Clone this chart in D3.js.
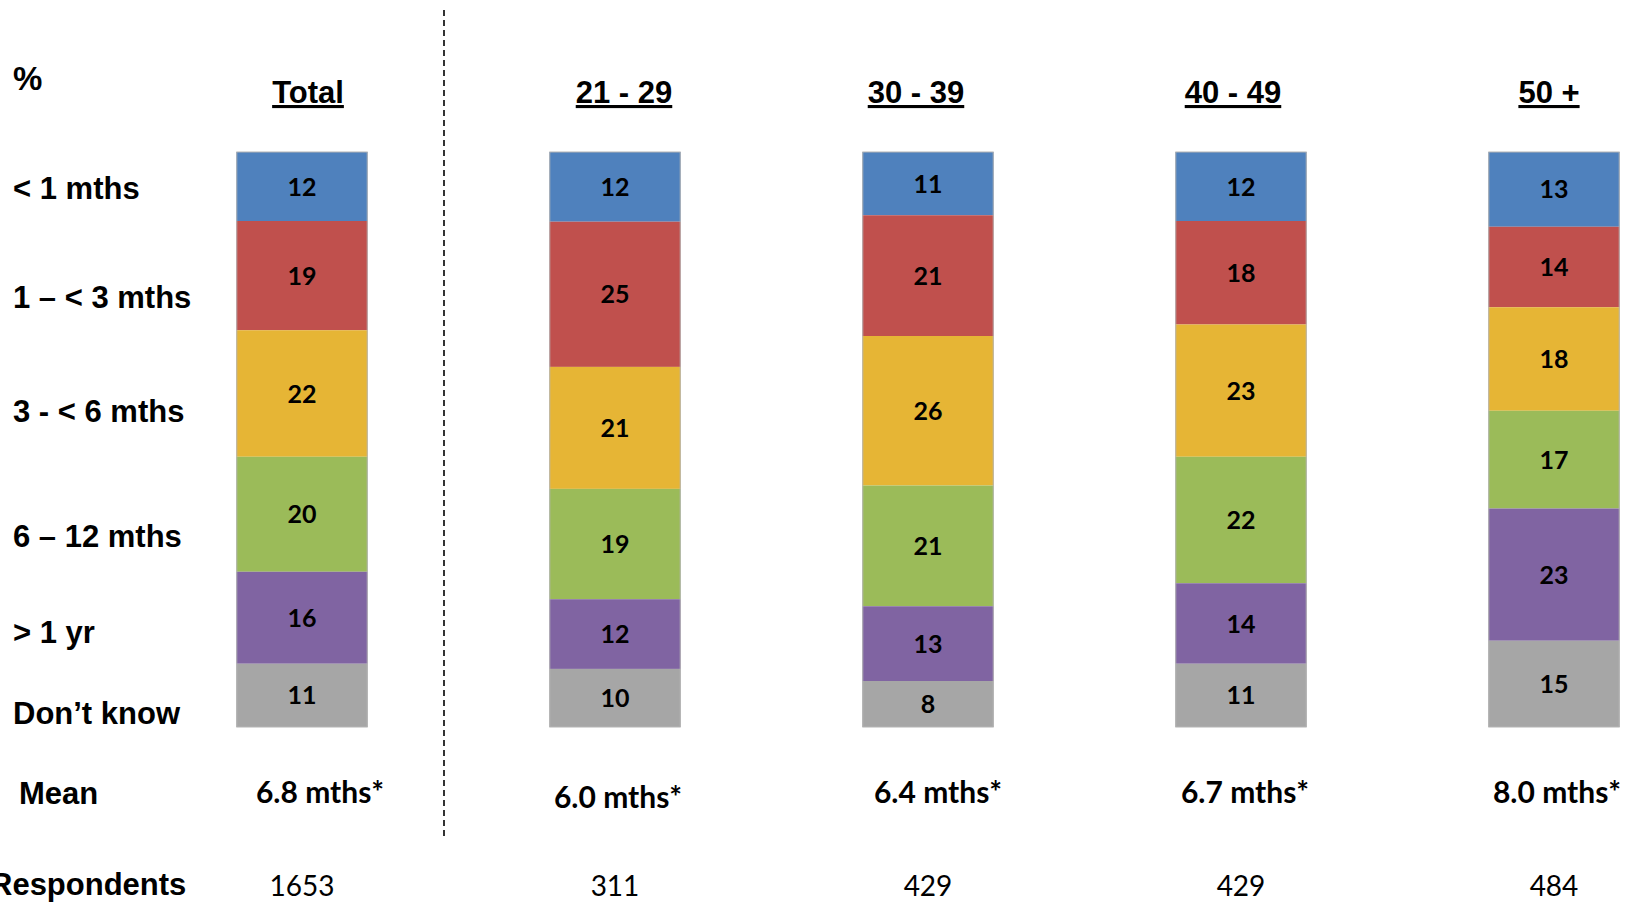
<!DOCTYPE html>
<html>
<head>
<meta charset="utf-8">
<script src="https://cdn.jsdelivr.net/npm/d3@7"></script>
<style>
  body { margin: 0; background: #fff; }
  svg { display: block; }
</style>
</head>
<body>
<svg id="chart"></svg>
<script>
// groups shown as columns
var groups = ["Total", "21 - 29", "30 - 39", "40 - 49", "50 +"];

// stacked categories, top to bottom
var categories = ["< 1 mths", "1 \u2013 < 3 mths", "3 - < 6 mths", "6 \u2013 12 mths", "> 1 yr", "Don\u2019t know"];

// percent values per category, one number per group
var lessThan1 = [12, 12, 11, 12, 13];
var oneTo3 = [19, 25, 21, 18, 14];
var threeTo6 = [22, 21, 26, 23, 18];
var sixTo12 = [20, 19, 21, 22, 17];
var overYear = [16, 12, 13, 14, 23];
var dontKnow = [11, 10, 8, 11, 15];

var means = ["6.8 mths*", "6.0 mths*", "6.4 mths*", "6.7 mths*", "8.0 mths*"];
var respondents = [1653, 311, 429, 429, 484];

var colors = ["#4F81BD", "#C0504D", "#E6B535", "#9BBB59", "#8064A2", "#A6A6A6"];

// build rows for d3.stack
var series = [lessThan1, oneTo3, threeTo6, sixTo12, overYear, dontKnow];
var data = groups.map(function (g, i) {
    var row = { group: g };
    categories.forEach(function (c, j) { row[c] = series[j][i]; });
    return row;
});

var width = 1633, height = 903;
var svg = d3.select("#chart").attr("width", width).attr("height", height);

// setup x
var x = d3.scaleBand()
    .domain(groups)
    .range([145.5, 1710.5])
    .paddingInner(0.58)
    .paddingOuter(0.29);
var mid = function (g) { return x(g) + x.bandwidth() / 2; };

// setup y (100% stacked)
var y = d3.scaleLinear().domain([0, 1]).range([152, 727]);

var stack = d3.stack().keys(categories).offset(d3.stackOffsetExpand);
var stacked = stack(data);

var color = d3.scaleOrdinal().domain(categories).range(colors);

// draw segments
var layers = svg.selectAll(".layer")
    .data(stacked)
    .enter().append("g")
    .attr("class", "layer")
    .style("fill", function (d) { return color(d.key); });

layers.selectAll("rect")
    .data(function (d) { return d; })
    .enter().append("rect")
    .attr("x", function (d) { return x(d.data.group); })
    .attr("width", x.bandwidth())
    .attr("y", function (d) { return y(d[0]); })
    .attr("height", function (d) { return y(d[1]) - y(d[0]); });

// light outline round each bar
svg.selectAll(".outline")
    .data(groups)
    .enter().append("rect")
    .attr("class", "outline")
    .attr("x", function (d) { return x(d) + 0.5; })
    .attr("y", y(0))
    .attr("width", x.bandwidth() - 1)
    .attr("height", y(1) - y(0))
    .style("fill", "none")
    .style("stroke", "#b4b4b4")
    .style("stroke-width", 1);

var numFont = "Lato, 'Open Sans', sans-serif";
var labelFont = "'Liberation Sans', Arial, sans-serif";

// value labels
layers.each(function (layer) {
    d3.select(this).selectAll("text")
        .data(layer)
        .enter().append("text")
        .attr("x", function (d) { return mid(d.data.group); })
        .attr("y", function (d) { return (y(d[0]) + y(d[1])) / 2; })
        .attr("dy", "0.36em")
        .attr("text-anchor", "middle")
        .style("fill", "#000")
        .style("font-family", numFont)
        .style("font-weight", "bold")
        .style("font-size", "25px")
        .text(function (d) { return d.data[layer.key]; });
});

// column headers (sit a little off the bar centres, as in the slide)
var headerShift = [6, 9, -12, -8, -5];
svg.selectAll(".header")
    .data(groups)
    .enter().append("text")
    .attr("class", "header")
    .attr("x", function (d, i) { return mid(d) + headerShift[i]; })
    .attr("y", 103)
    .attr("text-anchor", "middle")
    .style("font-family", labelFont)
    .style("font-weight", "bold")
    .style("font-size", "31px")
    .style("text-decoration", "underline")
    .text(function (d) { return d; });

svg.append("text")
    .attr("x", 13).attr("y", 90)
    .style("font-family", labelFont)
    .style("font-weight", "bold")
    .style("font-size", "33px")
    .text("%");

// row labels on the left
var rowLabelY = [199, 308, 422, 547, 643, 724];
svg.selectAll(".rowlabel")
    .data(categories)
    .enter().append("text")
    .attr("class", "rowlabel")
    .attr("x", 13)
    .attr("y", function (d, i) { return rowLabelY[i]; })
    .style("font-family", labelFont)
    .style("font-weight", "bold")
    .style("font-size", "31px")
    .text(function (d) { return d; });

svg.append("text")
    .attr("x", 19).attr("y", 804)
    .style("font-family", labelFont)
    .style("font-weight", "bold")
    .style("font-size", "31px")
    .text("Mean");

svg.append("text")
    .attr("x", -10).attr("y", 895)
    .style("font-family", labelFont)
    .style("font-weight", "bold")
    .style("font-size", "31px")
    .text("Respondents");

// mean row
var meanShift = [18, 3, 10, 4, 3];
svg.selectAll(".mean")
    .data(means)
    .enter().append("text")
    .attr("class", "mean")
    .attr("x", function (d, i) { return mid(groups[i]) + meanShift[i]; })
    .attr("y", function (d, i) { return i === 1 ? 808 : 803; })
    .attr("text-anchor", "middle")
    .style("font-family", numFont)
    .style("font-weight", "bold")
    .style("font-size", "30px")
    .text(function (d) { return d; });

// respondents row
svg.selectAll(".resp")
    .data(respondents)
    .enter().append("text")
    .attr("class", "resp")
    .attr("x", function (d, i) { return mid(groups[i]); })
    .attr("y", 896)
    .attr("text-anchor", "middle")
    .style("font-family", numFont)
    .style("font-size", "28px")
    .text(function (d) { return d; });

// dashed separator between Total and age groups
svg.append("line")
    .attr("x1", 444).attr("x2", 444)
    .attr("y1", 10).attr("y2", 840)
    .style("stroke", "#000")
    .style("stroke-width", 1.6)
    .style("stroke-dasharray", "6,4");
</script>
</body>
</html>
